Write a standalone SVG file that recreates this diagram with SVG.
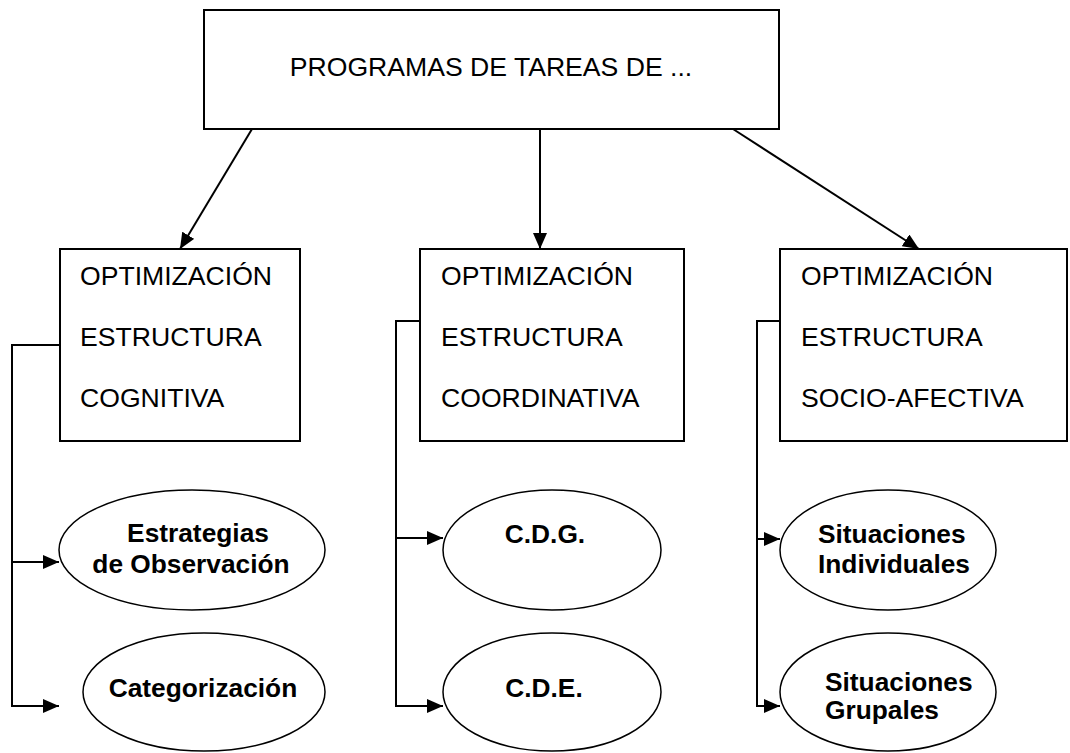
<svg xmlns="http://www.w3.org/2000/svg" width="1070" height="753" viewBox="0 0 1070 753">
<style>
.box{fill:#fff;stroke:#000;stroke-width:2}
.ell{fill:#fff;stroke:#000;stroke-width:1.5}
.t{font-family:"Liberation Sans",Arial,sans-serif;font-size:26.6px;fill:#000}
.b{font-family:"Liberation Sans",Arial,sans-serif;font-size:26.3px;font-weight:bold;fill:#000}
.c{fill:none;stroke:#000;stroke-width:2}
</style>
<defs>
<marker id="ah" markerUnits="userSpaceOnUse" markerWidth="16" markerHeight="14" refX="16" refY="7" orient="auto" viewBox="0 0 16 14">
<path d="M0,0 L16,7 L0,14 z" fill="#000"/>
</marker>
</defs>
<rect width="1070" height="753" fill="#fff"/>
<g id="top">
<rect class="box" x="204" y="10" width="575" height="119"/>
<text class="t" x="491" y="76" text-anchor="middle">PROGRAMAS DE TAREAS DE ...</text>
</g>
<g id="box-cognitiva">
<rect class="box" x="60" y="249" width="240" height="192"/>
<text class="t" x="80" y="285">OPTIMIZACIÓN</text>
<text class="t" x="80" y="346">ESTRUCTURA</text>
<text class="t" x="80" y="407">COGNITIVA</text>
</g>
<g id="box-coordinativa">
<rect class="box" x="420" y="249" width="264" height="192"/>
<text class="t" x="441" y="285">OPTIMIZACIÓN</text>
<text class="t" x="441" y="346">ESTRUCTURA</text>
<text class="t" x="441" y="407">COORDINATIVA</text>
</g>
<g id="box-socioafectiva">
<rect class="box" x="780" y="249" width="287" height="192"/>
<text class="t" x="801" y="285">OPTIMIZACIÓN</text>
<text class="t" x="801" y="346">ESTRUCTURA</text>
<text class="t" x="801" y="407">SOCIO-AFECTIVA</text>
</g>
<g id="el-estrategias">
<ellipse class="ell" cx="192" cy="550" rx="133" ry="60"/>
<text class="b" x="198" y="542" text-anchor="middle">Estrategias</text>
<text class="b" x="191" y="573" text-anchor="middle">de Observación</text>
</g>
<g id="el-categorizacion">
<ellipse class="ell" cx="204" cy="692" rx="121" ry="59"/>
<text class="b" x="203" y="697" text-anchor="middle">Categorización</text>
</g>
<g id="el-cdg">
<ellipse class="ell" cx="552" cy="550" rx="109" ry="60"/>
<text class="b" x="545" y="543" text-anchor="middle">C.D.G.</text>
</g>
<g id="el-cde">
<ellipse class="ell" cx="552" cy="692" rx="109" ry="59"/>
<text class="b" x="544" y="697" text-anchor="middle">C.D.E.</text>
</g>
<g id="el-individuales">
<ellipse class="ell" cx="888" cy="550" rx="108" ry="60"/>
<text class="b" x="818" y="543">Situaciones</text>
<text class="b" x="818" y="573">Individuales</text>
</g>
<g id="el-grupales">
<ellipse class="ell" cx="888" cy="692" rx="108" ry="59"/>
<text class="b" x="825" y="691">Situaciones</text>
<text class="b" x="825" y="719">Grupales</text>
</g>
<g id="connectors">
<line class="c" x1="252" y1="129" x2="180" y2="249" marker-end="url(#ah)"/>
<line class="c" x1="540" y1="129" x2="540" y2="249" marker-end="url(#ah)"/>
<line class="c" x1="733" y1="129" x2="919" y2="249" marker-end="url(#ah)"/>
<path class="c" d="M60,345 H12 V706 H59" marker-end="url(#ah)"/>
<line class="c" x1="12" y1="562" x2="59" y2="562" marker-end="url(#ah)"/>
<path class="c" d="M420,321 H396 V706 H443" marker-end="url(#ah)"/>
<line class="c" x1="396" y1="538" x2="443" y2="538" marker-end="url(#ah)"/>
<path class="c" d="M780,321 H757 V706 H780" marker-end="url(#ah)"/>
<line class="c" x1="757" y1="539" x2="780" y2="539" marker-end="url(#ah)"/>
</g>
</svg>
